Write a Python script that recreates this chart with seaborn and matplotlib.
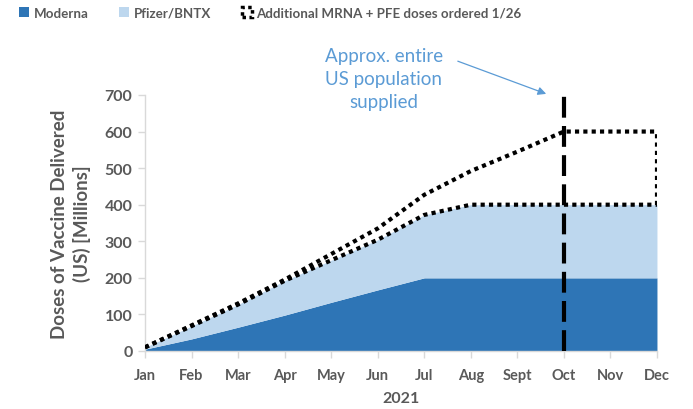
import matplotlib
matplotlib.use("Agg")
import matplotlib.pyplot as plt
import seaborn as sns
import numpy as np
import pandas as pd
from matplotlib.patches import Patch

months = ["Jan", "Feb", "Mar", "Apr", "May", "Jun", "Jul", "Aug", "Sept", "Oct", "Nov", "Dec"]
moderna = [5, 33, 65, 98, 133, 167, 200, 200, 200, 200, 200, 200]
pfizer = [5, 35, 62, 94, 115, 137, 172, 200, 200, 200, 200, 200]
additional = [0, 2, 3, 3, 17, 31, 55, 92, 145, 200, 200, 200]
yticks = [0, 100, 200, 300, 400, 500, 600, 700]
marker_month = "Oct"

sns.set_theme(style="white")
plt.rcParams['font.family'] = ['Lato', 'DejaVu Sans']

gray = "#595959"
c_mod = "#2E75B6"
c_pfe = "#BDD7EE"
c_ann = "#5B9BD5"

x = np.arange(len(months))
mod = np.array(moderna)
tot = mod + np.array(pfizer)
upper = tot + np.array(additional)
df = pd.DataFrame({"x": x, "total": tot, "upper": upper})

fig = plt.figure(figsize=(6.93, 4.10), dpi=100)
ax = fig.add_axes([0.2092, 0.1415, 0.7388, 0.6244])

ax.fill_between(x, 0, mod, color=c_mod, lw=0, zorder=1)
ax.fill_between(x, mod, tot, color=c_pfe, lw=0, zorder=1)

dot = (0, (1, 1))
sns.lineplot(data=df, x="x", y="total", ax=ax, color="black", lw=3, linestyle=dot, zorder=3)
sns.lineplot(data=df, x="x", y="upper", ax=ax, color="black", lw=3, linestyle=dot, zorder=3)
ax.vlines(x[-1], tot[-1], upper[-1], color="black", lw=3, linestyles=[dot], zorder=3)

xi = months.index(marker_month)
ax.vlines(xi, 0, yticks[-1], color="black", lw=3, linestyles=[(0, (5, 2))], zorder=4)

ax.set_xlim(0, len(months) - 1)
ax.set_ylim(0, yticks[-1])
ax.set_xticks(x)
ax.set_xticklabels(months)
ax.set_yticks(yticks)
for lab in ax.get_xticklabels():
    lab.set_fontweight("bold")
    lab.set_color(gray)
    lab.set_fontsize(10.5)
for lab in ax.get_yticklabels():
    lab.set_fontweight("bold")
    lab.set_color(gray)
    lab.set_fontsize(11.5)
ax.tick_params(axis="both", which="both", length=5, color="#D9D9D9", width=1, bottom=True, left=True)
ax.tick_params(axis="x", pad=7)
ax.tick_params(axis="y", pad=4)
for s in ["top", "right"]:
    ax.spines[s].set_visible(False)
for s in ["left", "bottom"]:
    ax.spines[s].set_color("#D9D9D9")
    ax.spines[s].set_linewidth(1)

ax.set_xlabel("2021", fontsize=11.5, fontweight="bold", color=gray, labelpad=7)
ax.set_ylabel("Doses of Vaccine Delivered\n(US) [Millions]", fontsize=13.5, fontweight="bold",
              color=gray, labelpad=10, linespacing=1.3)

ax.annotate("Approx. entire\nUS population\nsupplied", xy=(xi - 0.38, 703), xytext=(5.13, 745),
            textcoords="data", ha="center", va="center", fontsize=13.5, color=c_ann,
            linespacing=1.45, annotation_clip=False,
            arrowprops=dict(arrowstyle="-|>", color=c_ann, lw=0.9, shrinkA=9, shrinkB=0,
                            mutation_scale=12, relpos=(1.0, 0.86)))

handles = [Patch(facecolor=c_mod, edgecolor="none", label="Moderna"),
           Patch(facecolor=c_pfe, edgecolor="none", label="Pfizer/BNTX"),
           Patch(facecolor="white", edgecolor="black", linestyle=(0, (1, 1)), lw=2.5,
                 label="Additional MRNA + PFE doses ordered 1/26")]
leg = fig.legend(handles=handles, loc="upper left", bbox_to_anchor=(0.01, 1.01), ncol=3, frameon=False,
                 handlelength=0.75, handleheight=0.75, handletextpad=0.35, columnspacing=2.3,
                 prop={"weight": "bold", "size": 9.6})
for t in leg.get_texts():
    t.set_color(gray)

fig.savefig("out.png", dpi=100)
